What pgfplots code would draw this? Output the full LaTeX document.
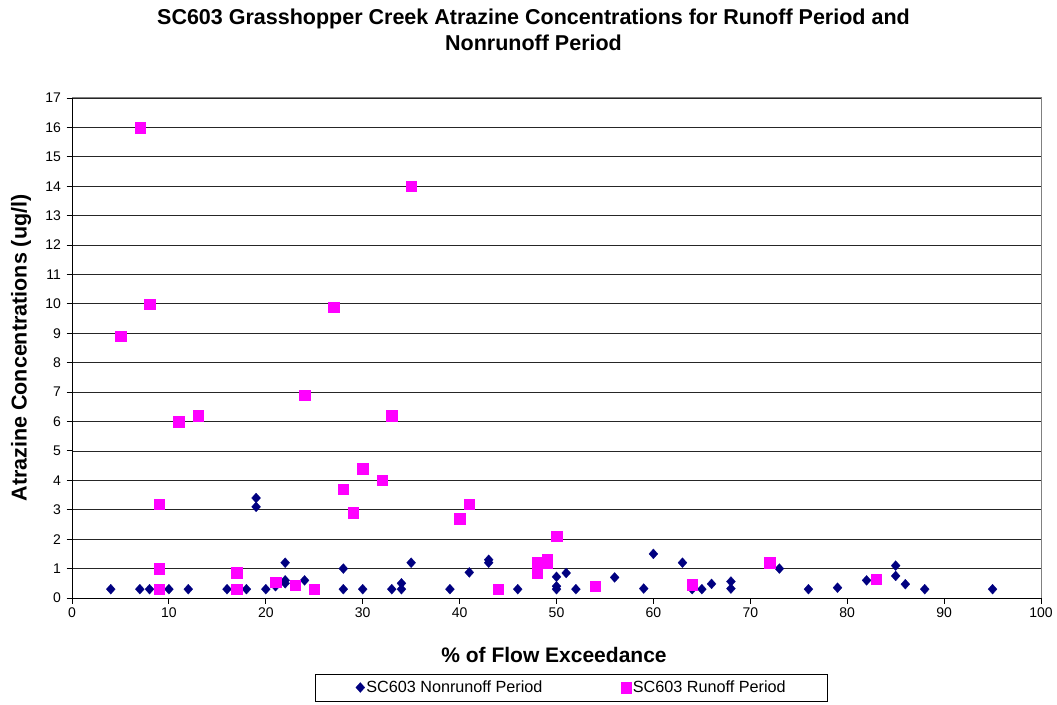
\documentclass[border=0pt]{standalone}
\usepackage{fontspec}
\setmainfont{Liberation Sans}
\usepackage{pgfplots}
\pgfplotsset{compat=1.18}
\definecolor{navyd}{RGB}{0,0,128}
\definecolor{magp}{RGB}{255,0,255}
\begin{document}
\begin{tikzpicture}
\path[use as bounding box] (-72pt,-106pt) rectangle (985pt,598pt);
\begin{axis}[
  at={(0pt,0pt)}, anchor=south west,
  scale only axis, width=969pt, height=500pt,
  xmin=0, xmax=100, ymin=0, ymax=17,
  xtick={0,10,...,100}, ytick={0,1,...,17},
  ymajorgrids, grid style={black!85, line width=0.8pt},
  axis lines=left,
  axis line style={black, line width=1pt, -},
  tick align=outside, major tick length=5.5pt,
  tick style={black, line width=0.9pt},
  /pgf/number format/assume math mode=true,
  tick label style={font=\fontsize{14}{16}\selectfont},
  xticklabel style={yshift=-1pt},
  yticklabel style={xshift=-2pt},
  legend columns=2,
  legend image code/.code={\draw[mark repeat=2,mark phase=2] plot coordinates {(0pt,0pt)(4pt,0pt)(8pt,0pt)};},
  legend style={at={(0.5155,-0.179)}, anchor=center, draw=black, line width=0.7pt,
    font=\fontsize{16.2}{18}\selectfont, inner xsep=40pt, inner ysep=6pt,
    nodes={inner xsep=1.5pt, inner ysep=1pt}},
  /tikz/every even column/.append style={column sep=77pt},
  clip=false,
]
\draw[black!50, line width=1pt] (rel axis cs:0,1) -- (rel axis cs:1,1) -- (rel axis cs:1,0);
\addplot[only marks, mark=diamond*, mark size=5pt, mark options={fill=navyd, draw=navyd, xscale=1.2, line width=0.2pt}] coordinates {
(4,0.3)(7,0.3)(8,0.3)(10,0.3)(12,0.3)(16,0.3)(18,0.3)
(19,3.4)(19,3.1)(20,0.3)(21,0.4)(22,1.2)(22,0.6)(22,0.5)(24,0.6)
(28,1.0)(28,0.3)(30,0.3)(33,0.3)(34,0.5)(34,0.3)(35,1.2)(39,0.3)
(41,0.87)(43,1.3)(43,1.2)(46,0.3)(50,0.72)(50,0.4)(50,0.3)(51,0.85)(52,0.3)
(56,0.7)(59,0.32)(60,1.5)(63,1.2)(64,0.3)(65,0.3)(66,0.48)(68,0.56)(68,0.32)
(73,1.0)(76,0.3)(79,0.35)(82,0.6)(85,1.1)(85,0.75)(86,0.47)(88,0.3)(95,0.3)
};
\addlegendentry{SC603 Nonrunoff Period}
\addplot[only marks, mark=square*, mark size=5.2pt, mark options={fill=magp, draw=magp, line width=0.2pt}] coordinates {
(5,8.9)(7,16)(8,10)(9,3.2)(9,1.0)(9,0.3)(11,6.0)(13,6.2)(17,0.87)(17,0.3)
(21,0.55)(23,0.43)(24,6.9)(25,0.3)(27,9.9)(28,3.7)(29,2.9)(30,4.4)(32,4.0)
(33,6.2)(35,14)(40,2.7)(41,3.2)(44,0.3)(48,1.2)(48,0.85)(49,1.3)(49,1.2)
(50,2.1)(54,0.4)(64,0.46)(72,1.2)(83,0.65)
};
\addlegendentry{SC603 Runoff Period}
\end{axis}
\node[font=\bfseries\fontsize{21.5}{26}\selectfont, align=center] at (461.5pt,568pt)
  {SC603 Grasshopper Creek Atrazine Concentrations for Runoff Period and\\Nonrunoff Period};
\node[font=\bfseries\fontsize{21.5}{24}\selectfont, rotate=90] at (-51pt,250pt) {Atrazine Concentrations (ug/l)};
\node[font=\bfseries\fontsize{21}{23}\selectfont] at (482pt,-57pt) {\% of Flow Exceedance};
\end{tikzpicture}
\end{document}
